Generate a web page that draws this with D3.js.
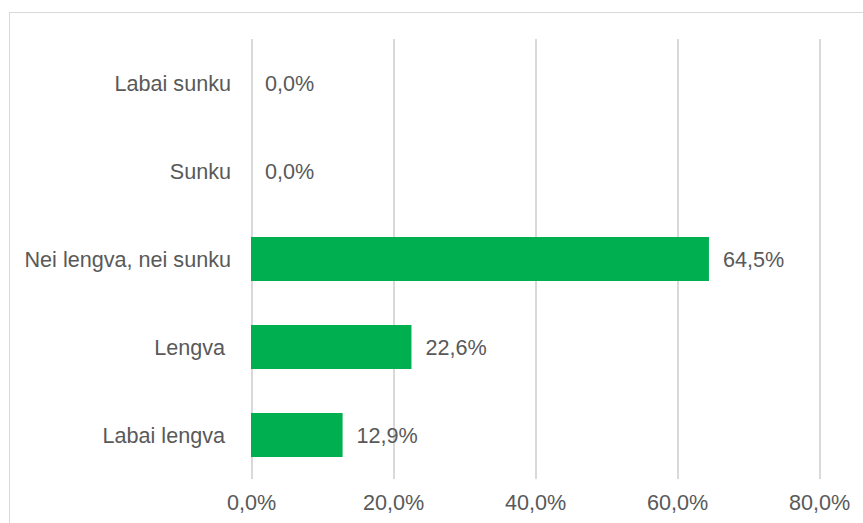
<!DOCTYPE html>
<html>
<head>
<meta charset="utf-8">
<script src="https://cdn.jsdelivr.net/npm/d3@7"></script>
<style>
  html, body { margin: 0; padding: 0; background: #fff; }
  svg { display: block; }
  text { font-family: "Liberation Sans", Arial, sans-serif; fill: #595959; white-space: pre; }
</style>
</head>
<body>
<svg id="chart" width="863" height="523"></svg>
<script>
const categories = ["Labai sunku", "Sunku", "Nei lengva, nei sunku", "Lengva ", "Labai lengva "];
const values = [0.0, 0.0, 64.5, 22.6, 12.9];
const tickValues = [0, 20, 40, 60, 80];

const FS = "21.6px";
const svg = d3.select("#chart");

// outer border
svg.append("rect")
  .attr("x", 9.5).attr("y", 12.5)
  .attr("width", 900).attr("height", 600)
  .attr("fill", "none").attr("stroke", "#d9d9d9").attr("stroke-width", 1);

const x = d3.scaleLinear().domain([0, 80]).range([251, 819]);
const y = d3.scaleBand().domain(categories).range([39, 479]).paddingInner(0.5).paddingOuter(0.25);

const fmt = v => v.toFixed(1).replace(".", ",") + "%";

// gridlines
const gridAxis = d3.axisBottom(x).tickValues(tickValues).tickSize(-(479 - 39)).tickFormat("");
const grid = svg.append("g").attr("transform", "translate(0,479)").call(gridAxis);
grid.select(".domain").remove();
grid.selectAll("line").attr("stroke", "#d9d9d9").attr("stroke-width", 2).attr("shape-rendering", "crispEdges");

// x tick labels
const xAxis = d3.axisBottom(x).tickValues(tickValues).tickSize(0).tickPadding(0).tickFormat(fmt);
const xa = svg.append("g").attr("transform", "translate(0,479)").call(xAxis);
xa.select(".domain").remove();
xa.selectAll("text")
  .attr("dy", null).attr("y", 31)
  .style("font-size", FS).attr("fill", "#595959")
  .style("font-family", "'Liberation Sans', Arial, sans-serif");

// y category labels
const yAxis = d3.axisLeft(y).tickSize(0).tickPadding(20);
const ya = svg.append("g").attr("transform", "translate(251,0)").call(yAxis);
ya.select(".domain").remove();
ya.selectAll("text")
  .attr("dy", "0.35em")
  .style("font-size", FS).attr("fill", "#595959")
  .style("white-space", "pre")
  .style("font-family", "'Liberation Sans', Arial, sans-serif");

// bars
svg.append("g").selectAll("rect")
  .data(categories)
  .join("rect")
  .attr("x", x(0))
  .attr("y", (d) => y(d))
  .attr("width", (d, i) => x(values[i]) - x(0))
  .attr("height", y.bandwidth())
  .attr("fill", "#00b050");

// value labels
svg.append("g").selectAll("text")
  .data(categories)
  .join("text")
  .attr("x", (d, i) => x(values[i]) + 14)
  .attr("y", d => y(d) + y.bandwidth() / 2)
  .attr("dy", "0.35em")
  .style("font-size", FS)
  .text((d, i) => fmt(values[i]));
</script>
</body>
</html>
